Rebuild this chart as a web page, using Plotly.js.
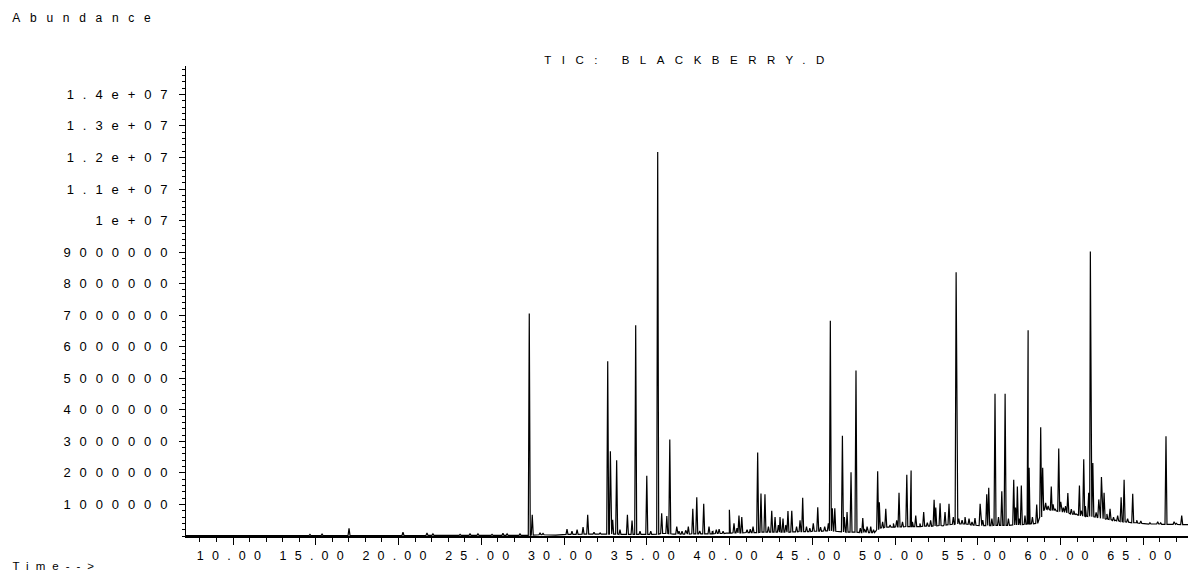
<!DOCTYPE html>
<html>
<head>
<meta charset="utf-8">
<script src="https://cdn.plot.ly/plotly-3.0.1.min.js"></script>
<style>
  html, body { margin: 0; padding: 0; background: #fff; }
  #chart { width: 1188px; height: 575px; }
  .xtick text { letter-spacing: 8.2px; }
  .ytick text { letter-spacing: 8.9px; }
  .gtitle { letter-spacing: 10.5px; }
  g.annotation[data-index="0"] .annotation-text { letter-spacing: 9.7px; }
  g.annotation[data-index="1"] .annotation-text { letter-spacing: 7px; }
</style>
</head>
<body>
<div id="chart"></div>
<script>
// ---- data (time in minutes, abundance in counts) ----
const peakTime = [
  14.65, 15.38, 17.01, 20.27, 21.72, 22.08, 23.72, 24.32, 24.80, 25.65, 26.31, 26.56, 27.34,
  27.90, 28.08, 28.55, 28.73, 30.18, 30.48, 30.79, 31.15, 31.43, 31.81, 32.18,
  32.64, 32.80, 32.94, 33.18, 33.38, 33.83, 34.11, 34.33, 34.59, 35.00, 35.24,
  35.66, 35.90, 36.21, 36.39, 36.81, 37.13, 37.51, 37.78, 38.02, 38.44, 38.76, 39.00,
  39.37, 39.61, 39.99, 40.27, 40.57, 40.74, 41.06, 41.42, 41.70, 41.90, 42.14, 42.55,
  42.75, 43.05, 43.23, 43.53, 43.76, 44.26, 44.42, 45.06, 45.33, 45.97, 46.09, 46.21,
  46.36, 46.82, 46.94, 47.10, 47.34, 47.64, 48.05, 48.31, 48.53, 48.95, 49.05, 49.44,
  49.70, 50.10, 50.24, 50.71, 50.97, 51.25, 51.73, 52.36, 52.46, 52.72, 53.02, 53.26,
  53.52, 53.69, 54.23, 54.47, 54.83, 55.14, 55.54, 55.66, 56.04, 56.45, 56.65, 57.17,
  57.28, 57.39, 57.63, 58.04, 58.10, 58.56, 58.80, 58.92, 59.44, 59.67, 59.89, 60.01,
  60.17, 60.44, 60.94, 61.14, 61.40, 61.50, 61.70, 61.80, 61.95, 62.31, 62.47, 62.63,
  62.99, 63.66, 63.84, 64.36, 65.87, 66.37, 66.86, 67.32
];
const peakHeight = [
  50000, 60000, 240000, 120000, 100000, 70000, 50000, 70000, 70000, 50000, 90000, 70000, 70000,
  7050000, 670000, 100000, 80000, 220000, 150000, 200000, 280000, 670000, 120000, 100000,
  5540000, 2690000, 510000, 2400000, 200000, 670000, 490000, 6680000, 150000, 1910000, 150000,
  12170000, 720000, 630000, 3060000, 300000, 150000, 300000, 860000, 1230000, 1020000, 300000, 150000,
  220000, 150000, 830000, 400000, 650000, 600000, 200000, 300000, 2650000, 1350000, 1320000, 800000,
  600000, 600000, 550000, 790000, 800000, 500000, 1210000, 400000, 910000, 400000, 6820000, 880000,
  880000, 3180000, 600000, 760000, 2020000, 5250000, 570000, 300000, 300000, 2050000, 1070000, 860000,
  350000, 500000, 1370000, 1940000, 2080000, 650000, 760000, 1150000, 900000, 1040000, 760000, 1020000,
  600000, 8360000, 600000, 550000, 570000, 1020000, 1320000, 1530000, 4510000, 1420000, 4510000, 1780000,
  900000, 1570000, 1600000, 6520000, 2160000, 1000000, 3450000, 2160000, 1570000, 860000, 2770000, 1080000,
  900000, 1360000, 700000, 1600000, 2430000, 950000, 1370000, 9020000, 2310000, 1160000, 1870000, 1370000,
  860000, 1230000, 1780000, 1340000, 450000, 3160000, 450000, 650000
];
const peakBase = [
  10000, 10000, 15000, 15000, 20000, 20000, 20000, 20000, 20000, 20000, 20000, 20000, 20000,
  20000, 30000, 40000, 40000, 50000, 50000, 50000, 60000, 60000, 60000, 60000,
  60000, 60000, 60000, 60000, 50000, 50000, 50000, 50000, 50000, 50000, 50000,
  60000, 80000, 80000, 70000, 60000, 60000, 60000, 70000, 70000, 70000, 70000, 70000,
  80000, 80000, 90000, 100000, 100000, 100000, 110000, 110000, 110000, 120000, 120000, 120000,
  120000, 120000, 120000, 120000, 130000, 140000, 140000, 150000, 150000, 160000, 160000, 160000,
  150000, 130000, 130000, 120000, 120000, 120000, 110000, 110000, 110000, 200000, 250000, 280000,
  280000, 290000, 290000, 300000, 300000, 300000, 310000, 320000, 320000, 330000, 350000, 360000,
  370000, 380000, 380000, 370000, 340000, 330000, 330000, 330000, 340000, 340000, 340000, 350000,
  350000, 350000, 360000, 380000, 380000, 400000, 600000, 800000, 820000, 800000, 780000, 770000,
  760000, 730000, 680000, 650000, 630000, 630000, 620000, 620000, 610000, 580000, 560000, 550000,
  520000, 460000, 450000, 420000, 380000, 370000, 370000, 360000
];
// small baseline spikes (noise)
const noiseTime = [
  36.95, 37.35, 38.20, 38.95, 39.20, 40.05, 40.45, 41.25, 42.35, 42.95, 43.40, 44.05,
  44.65, 44.85, 45.50, 45.75, 47.90, 48.15, 48.70, 49.25, 49.90, 50.45, 51.05, 51.50,
  51.95, 52.15, 53.85, 54.05, 54.65, 55.30, 55.85, 56.25, 56.85, 57.50, 57.85, 58.30,
  59.10, 59.25, 59.55, 60.30, 60.65, 60.80, 61.25, 62.15, 62.80, 63.20, 63.45, 64.05,
  64.60, 64.85, 65.40, 66.05, 67.00
];
const noiseHeight = [
  150000, 180000, 160000, 140000, 200000, 200000, 250000, 220000, 300000, 350000, 350000, 300000,
  300000, 250000, 280000, 300000, 250000, 220000, 200000, 450000, 400000, 450000, 450000, 400000,
  420000, 500000, 550000, 500000, 450000, 500000, 550000, 600000, 550000, 550000, 650000, 600000,
  1050000, 950000, 1000000, 950000, 850000, 800000, 800000, 750000, 700000, 600000, 650000, 550000,
  500000, 480000, 420000, 420000, 400000
];
const noiseBase = [
  60000, 60000, 70000, 70000, 80000, 90000, 100000, 110000, 120000, 120000, 120000, 130000,
  140000, 140000, 150000, 160000, 110000, 110000, 110000, 260000, 280000, 290000, 300000, 300000,
  310000, 310000, 380000, 380000, 350000, 330000, 330000, 340000, 340000, 350000, 370000, 390000,
  850000, 840000, 810000, 750000, 700000, 690000, 640000, 600000, 530000, 490000, 480000, 440000,
  410000, 400000, 380000, 370000, 370000
];
const baseTime = [
  7.16, 12.0, 18.0, 24.0, 27.5, 28.4, 29.5, 30.5, 32.0, 34.0, 36.6, 38.9, 39.8, 41.2,
  43.0, 44.8, 45.6, 47.0, 48.4, 48.85, 49.9, 51.5, 52.9, 54.2, 55.0, 56.3, 57.8, 58.5,
  58.97, 59.3, 60.2, 60.8, 61.5, 62.8, 63.3, 64.6, 65.2, 66.0, 66.7, 67.7
];
const baseLevel = [
  10000, 10000, 15000, 20000, 20000, 40000, 30000, 50000, 60000, 50000, 60000, 70000, 90000, 110000,
  120000, 140000, 160000, 120000, 110000, 160000, 280000, 300000, 320000, 380000, 330000, 340000, 360000, 400000,
  800000, 850000, 780000, 700000, 620000, 560000, 500000, 420000, 390000, 380000, 370000, 360000
];
const yTickVals = [1000000, 2000000, 3000000, 4000000, 5000000, 6000000, 7000000,
                   8000000, 9000000, 10000000, 11000000, 12000000, 13000000, 14000000];
const yTickText = ['1000000', '2000000', '3000000', '4000000', '5000000', '6000000', '7000000',
                   '8000000', '9000000', '1e+07', '1.1e+07', '1.2e+07', '1.3e+07', '1.4e+07'];
const chartTitle = 'TIC: BLACKBERRY.D';
const yLabel = 'Abundance';
const xLabel = 'Time-->';

// ---- build the trace: each peak is a narrow spike standing on its local baseline ----
const HALF = 0.06; // spike half-width in minutes (shape only)
const pts = [];
for (let i = 0; i < baseTime.length; i++) pts.push([baseTime[i], baseLevel[i]]);
function addSpikes(times, heights, bases, half) {
  for (let i = 0; i < times.length; i++) {
    pts.push([times[i] - half, bases[i]]);
    pts.push([times[i], heights[i]]);
    pts.push([times[i] + half, bases[i]]);
  }
}
addSpikes(peakTime, peakHeight, peakBase, HALF);
addSpikes(noiseTime, noiseHeight, noiseBase, HALF);
pts.sort((a, b) => a[0] - b[0]);

const trace = {
  x: pts.map(p => p[0]),
  y: pts.map(p => p[1]),
  type: 'scatter',
  mode: 'lines',
  line: { color: '#000000', width: 1.2 },
  hoverinfo: 'skip'
};

const FONT = 'Liberation Sans, Arial, sans-serif';

const layout = {
  width: 1188,
  height: 575,
  paper_bgcolor: '#ffffff',
  plot_bgcolor: '#ffffff',
  showlegend: false,
  margin: { l: 186, r: 0, t: 66, b: 39, pad: 0 },
  font: { family: FONT, color: '#000000', size: 11 },
  title: {
    text: chartTitle,
    font: { family: FONT, size: 11.5, color: '#000000' },
    xref: 'container', x: 0.5804,
    yref: 'container', y: 0.8957,
    xanchor: 'center', yanchor: 'middle'
  },
  xaxis: {
    range: [7.16, 67.7],
    tickmode: 'linear', tick0: 10, dtick: 5,
    tickformat: '.2f',
    ticks: 'outside', ticklen: 7, tickwidth: 1, tickcolor: '#000000',
    minor: { dtick: 1, tick0: 10, ticks: 'outside', ticklen: 4, tickwidth: 1, tickcolor: '#000000' },
    showline: true, linecolor: '#000000', linewidth: 2,
    showgrid: false, zeroline: false,
    tickfont: { family: FONT, size: 12.5, color: '#000000' }
  },
  yaxis: {
    range: [0, 14900000],
    tickmode: 'array', tickvals: yTickVals, ticktext: yTickText,
    ticks: 'outside', ticklen: 6, tickwidth: 1, tickcolor: '#000000',
    minor: { dtick: 200000, tick0: 0, ticks: 'outside', ticklen: 3, tickwidth: 1, tickcolor: '#000000' },
    showline: true, linecolor: '#000000', linewidth: 1,
    showgrid: false, zeroline: false,
    tickfont: { family: FONT, size: 13, color: '#000000' }
  },
  annotations: [
    {
      text: yLabel, xref: 'paper', yref: 'paper',
      x: -0.0998, y: 1.102, xanchor: 'center', yanchor: 'middle',
      showarrow: false, font: { family: FONT, size: 12, color: '#000000' }
    },
    {
      text: xLabel, xref: 'paper', yref: 'paper',
      x: -0.1287, y: -0.064, xanchor: 'center', yanchor: 'middle',
      showarrow: false, font: { family: FONT, size: 11.5, color: '#000000' }
    }
  ]
};

Plotly.newPlot('chart', [trace], layout, { displayModeBar: false, staticPlot: true });
</script>
</body>
</html>
